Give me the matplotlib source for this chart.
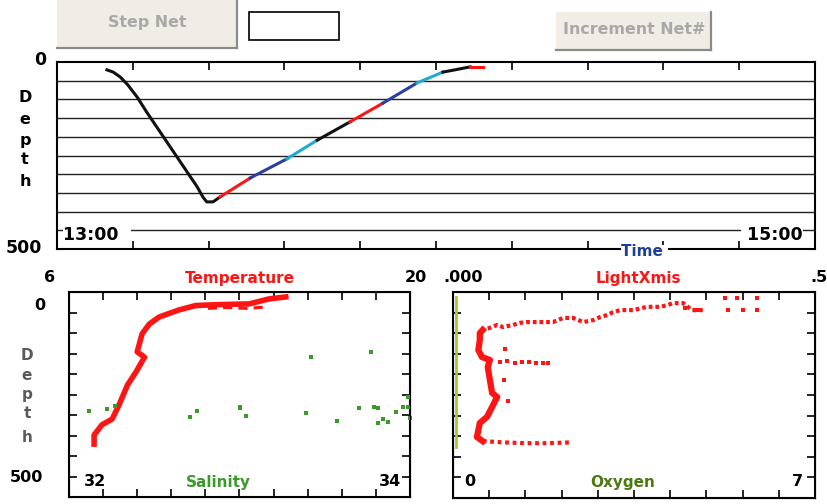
import numpy as np
import matplotlib
matplotlib.use("Agg")
import matplotlib.pyplot as plt
from matplotlib.patches import Rectangle

W, H = 828, 504

# tow record: minutes after 13:00 vs depth
tow_time = [7.9, 8.9, 10.0, 11.2, 12.7, 14.2, 15.8, 17.4, 19.0, 20.6, 22.2, 23.1, 23.7,
            24.7, 25.8, 30.6, 36.4, 41.2, 46.4, 51.6, 54.3, 57.0, 61.1, 63.0, 65.4, 67.4]
tow_depth = [21, 27, 40, 61, 94, 134, 174, 214, 254, 294, 334, 361, 374,
             374, 361, 310, 259, 209, 160, 110, 83, 56, 27, 21, 13, 13]
net_start = [0, 14, 15, 16, 17, 18, 19, 21, 22, 24]
net_colors = ['#111111', '#ff1414', '#2a3f9f', '#22aacc', '#111111',
              '#ff1414', '#2a3f9f', '#22aacc', '#111111', '#ff1414']

# temperature profile
temp_val = [14.9, 14.2, 13.4, 12.0, 11.2, 10.5, 9.7, 9.3, 9.0, 8.8, 9.1, 8.75,
            8.4, 8.05, 7.77, 7.35, 7.03, 7.03]
temp_depth = [12, 17, 29, 31, 33, 44, 61, 78, 102, 146, 159, 195,
              227, 276, 310, 324, 349, 371]
temp2_val = [11.7, 12.5, 13.3, 14.0]
temp2_depth = [40, 38, 40, 37]

# salinity samples
sal_val = [32.12, 32.22, 32.27, 32.71, 32.75, 33.00, 33.00, 33.04, 33.39, 33.42, 33.57,
           33.70, 33.77, 33.79, 33.81, 33.81, 33.84, 33.87, 33.92, 33.96, 33.99, 33.99, 34.0]
sal_depth = [290, 285, 278, 305, 290, 280, 283, 302, 295, 158, 315,
             283, 146, 280, 283, 319, 310, 317, 293, 280, 280, 256, 307]

# light transmission: upper branch, column, bottom branch
light_top_val = [0.345, 0.33, 0.318, 0.304, 0.296, 0.286, 0.268, 0.249, 0.231, 0.221,
                 0.213, 0.203, 0.194, 0.180, 0.166, 0.152, 0.138, 0.116, 0.102, 0.092,
                 0.083, 0.069, 0.061, 0.051, 0.041]
light_top_depth = [44, 44, 27, 27, 32, 36, 36, 44, 44, 49,
                   56, 61, 68, 73, 63, 63, 73, 73, 73, 75,
                   80, 85, 80, 87, 92]
light_col_val = [0.041, 0.037, 0.037, 0.035, 0.040, 0.051, 0.048, 0.051, 0.054,
                 0.061, 0.054, 0.047, 0.037, 0.035, 0.033, 0.041]
light_col_depth = [92, 100, 117, 141, 158, 165, 182, 214, 245,
                   255, 279, 303, 318, 335, 352, 362]
light_bot_val = [0.041, 0.07, 0.10, 0.13, 0.164]
light_bot_depth = [362, 365, 367, 367, 365]
light_pts_val = [0.42, 0.392, 0.376, 0.42, 0.40, 0.38, 0.337, 0.32,
                 0.065, 0.075, 0.085, 0.095, 0.105, 0.115, 0.125, 0.131,
                 0.072, 0.07, 0.076]
light_pts_depth = [15, 15, 15, 44, 44, 44, 44, 39,
                   170, 168, 172, 170, 170, 172, 172, 172,
                   138, 214, 265]

oxy_val = [0.05, 0.05]
oxy_depth = [12, 376]


def rect(x0, y0, x1, y1):
    return [x0 / W, 1 - y1 / H, (x1 - x0) / W, (y1 - y0) / H]


plt.rcParams['font.family'] = 'DejaVu Sans'
fig = plt.figure(figsize=(W / 100, H / 100), dpi=100)
fig.patch.set_facecolor('white')

# top panel: depth vs time
ax = fig.add_axes(rect(57, 62, 815, 249))
ax.set_xlim(0, 120)
ax.set_ylim(500, 0)
for d in range(50, 500, 50):
    ax.axhline(d, color='#222222', lw=1, zorder=1)
for k, c in enumerate(net_colors):
    i0 = net_start[k]
    i1 = net_start[k + 1] if k + 1 < len(net_start) else len(tow_time) - 1
    ax.plot(tow_time[i0:i1 + 1], tow_depth[i0:i1 + 1], color=c, lw=2.2, zorder=3)
ax.set_xticks(np.arange(12, 120, 12))
ax.set_xticklabels([])
ax.set_yticks([])
ax.tick_params(axis='x', direction='in', top=True, bottom=True, length=6, width=1.2)
for s in ax.spines.values():
    s.set_linewidth(1.5)


def profile_axes(r, xlim):
    a = fig.add_axes(r)
    a.set_xlim(*xlim)
    a.set_ylim(500, 0)
    return a


def style_ticks(a, xlim):
    a.set_xticks(np.linspace(xlim[0], xlim[1], 11)[1:-1])
    a.set_yticks(range(50, 500, 50))
    a.set_xticklabels([])
    a.set_yticklabels([])
    a.tick_params(direction='in', top=True, bottom=True, left=True, right=True,
                  length=6, width=1.2)
    for s in a.spines.values():
        s.set_linewidth(1.5)


# temperature / salinity
ax_t = profile_axes(rect(69, 292, 410, 497), (6, 20))
ax_t.plot(temp_val, temp_depth, color='#ff1414', lw=4, zorder=3)
ax_t.plot(temp2_val, temp2_depth, color='#ff1414', lw=2.2, ls=(0, (3, 2)), zorder=3)
ax_s = ax_t.twiny()
ax_s.set_xlim(32, 34)
ax_s.set_xticks([])
ax_s.scatter(sal_val, sal_depth, s=5, marker='s', color='#3a9a2a', lw=0, clip_on=False)
style_ticks(ax_t, (6, 20))

# light transmission / oxygen
ax_l = profile_axes(rect(453, 292, 815, 498), (0, 0.5))
ax_l.plot(light_top_val, light_top_depth, color='#ff1414', lw=3, ls=(0, (0.9, 0.7)), zorder=3)
ax_l.plot(light_col_val, light_col_depth, color='#ff1414', lw=4.5, zorder=3)
ax_l.plot(light_bot_val, light_bot_depth, color='#ff1414', lw=3, ls=(0, (0.9, 0.9)), zorder=3)
ax_l.scatter(light_pts_val, light_pts_depth, s=6, marker='s', color='#ff1414', lw=0, zorder=3)
ax_o = ax_l.twiny()
ax_o.set_xlim(0, 7)
ax_o.set_xticks([])
ax_o.plot(oxy_val, oxy_depth, color='#a8c830', lw=2)
style_ticks(ax_l, (0, 0.5))

# overlay in pixel coordinates for buttons and labels
ov = fig.add_axes([0, 0, 1, 1], zorder=10)
ov.set_xlim(0, W)
ov.set_ylim(H, 0)
ov.axis('off')
ov.patch.set_visible(False)

ov.add_patch(Rectangle((57, 0), 180, 47, fc='#efede5', ec='none'))
ov.plot([237, 237], [0, 48], color='#8a8a8a', lw=1.6)
ov.plot([57, 237], [47.5, 47.5], color='#8a8a8a', lw=1.6)
ov.add_patch(Rectangle((249, 12), 90, 28, fc='white', ec='black', lw=1.2))
ov.add_patch(Rectangle((556, 12), 155, 37, fc='#efede5', ec='none'))
ov.plot([711, 711], [12, 50], color='#8a8a8a', lw=1.6)
ov.plot([556, 711], [49.5, 49.5], color='#8a8a8a', lw=1.6)
ov.text(147, 23, 'Step Net', color='#a8a8a8', fontsize=11.4, fontweight='bold',
        ha='center', va='center')
ov.text(634, 30, 'Increment Net#', color='#a8a8a8', fontsize=11.4, fontweight='bold',
        ha='center', va='center')

bold = dict(fontweight='bold', ha='center', va='center')
ov.text(40, 60, '0', fontsize=12.5, **bold)
ov.text(24, 248, '500', fontsize=12.5, **bold)
for ch, y in zip('Depth', [97, 120, 141, 160, 181]):
    ov.text(25, y, ch, fontsize=11.5, **bold)
ov.text(63, 235, '13:00  ', fontsize=12.5, fontweight='bold', ha='left', va='center',
        bbox=dict(fc='white', ec='none', boxstyle='square,pad=0'))
ov.text(803, 235, ' 15:00', fontsize=12.5, fontweight='bold', ha='right', va='center',
        bbox=dict(fc='white', ec='none', boxstyle='square,pad=0'))
ov.text(621, 252, 'Time ', fontsize=11, fontweight='bold', color='#1d3f99', ha='left',
        va='center', bbox=dict(fc='white', ec='none', boxstyle='square,pad=0'))

ov.text(50, 278, '6', fontsize=11.5, **bold)
ov.text(240, 278, 'Temperature', fontsize=11, color='#ff1414', **bold)
ov.text(416, 278, '20', fontsize=11.5, **bold)
ov.text(463, 278, '.000', fontsize=11.5, **bold)
ov.text(638, 278, 'LightXmis', fontsize=11, color='#ff1414', **bold)
ov.text(819, 278, '.5', fontsize=11.5, **bold)

ov.text(40, 305, '0', fontsize=11.5, **bold)
ov.text(27, 478, '500', fontsize=11.5, **bold)
for ch, y in zip('Depth', [355, 376, 395, 414, 437]):
    ov.text(27, y, ch, fontsize=11, color='#5a5a5a', **bold)
ov.text(95, 481, '32', fontsize=11.5, **bold)
ov.text(218, 483, 'Salinity', fontsize=11, color='#3a9a2a', **bold)
ov.text(390, 481, '34', fontsize=11.5, **bold)
ov.text(470, 481, '0', fontsize=11.5, **bold)
ov.text(623, 483, 'Oxygen', fontsize=11, color='#4a7a10', **bold)
ov.text(797, 481, '7', fontsize=11.5, **bold)

fig.savefig('out.png', dpi=100, facecolor='white')
